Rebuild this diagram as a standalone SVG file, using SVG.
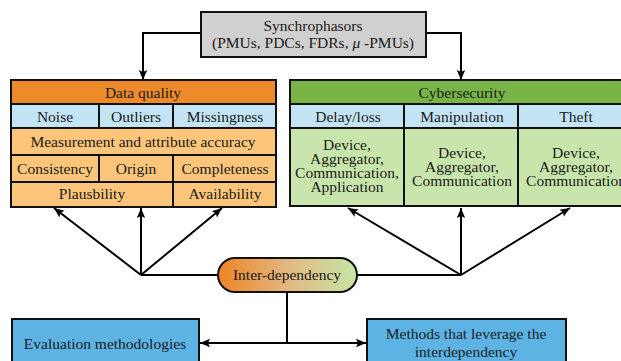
<svg xmlns="http://www.w3.org/2000/svg" width="621" height="361" viewBox="0 0 621 361">
<defs>
<marker id="arr" markerUnits="userSpaceOnUse" markerWidth="10" markerHeight="10" viewBox="0 0 10 10" refX="10" refY="5" orient="auto">
<path d="M0,0.8 L10,5 L0,9.2 L2,5 Z" fill="#000"/>
</marker>
<linearGradient id="pg" x1="0" y1="0" x2="1" y2="0">
<stop offset="0" stop-color="#EE8424"/>
<stop offset="0.5" stop-color="#E3B882"/>
<stop offset="1" stop-color="#C5E6A6"/>
</linearGradient>
<style>
text{font-family:"Liberation Serif","Times New Roman",serif;font-size:15.5px;fill:#1a1a1a;text-anchor:middle}
.b{stroke:#111;stroke-width:2}
.oh{fill:#ED8B2A}
.lo{fill:#FCC57A}
.lb{fill:#C3E4F5}
.gh{fill:#78B446}
.lg{fill:#C8E6AB}
.gr{fill:#D0D0D0}
.bb{fill:#5DB4E4}
.c{fill:none;stroke:#000;stroke-width:2}
.ca{fill:none;stroke:#000;stroke-width:2;marker-end:url(#arr)}
</style>
</defs>
<g id="connectors">
<path class="ca" d="M201,33 H143 V80"/>
<path class="ca" d="M426,33 H461 V80"/>
<path class="c" d="M141,275 H218"/>
<path class="c" d="M357,275 H461"/>
<path class="ca" d="M141,275 L54,208"/>
<path class="ca" d="M141,275 V208"/>
<path class="ca" d="M141,275 L222,208"/>
<path class="ca" d="M461,275 L348,208"/>
<path class="ca" d="M461,275 V208"/>
<path class="ca" d="M461,275 L570,208"/>
<path class="c" d="M287,292 V343"/>
<path class="ca" d="M287,343 H200"/>
<path class="ca" d="M287,343 H366"/>
</g>
<g id="synchrophasors">
<rect class="b gr" x="201" y="12" width="225" height="45"/>
<text x="313" y="31">Synchrophasors</text>
<text x="313" y="48">(PMUs, PDCs, FDRs, <tspan font-style="italic">μ</tspan> -PMUs)</text>
</g>
<g id="data-quality">
<rect class="b oh" x="11" y="80" width="265" height="24"/>
<text x="143" y="98">Data quality</text>
<rect class="b lb" x="11" y="104" width="88" height="24"/>
<rect class="b lb" x="99" y="104" width="74" height="24"/>
<rect class="b lb" x="173" y="104" width="103" height="24"/>
<text x="55" y="122">Noise</text>
<text x="136" y="122">Outliers</text>
<text x="225" y="122">Missingness</text>
<rect class="b lo" x="11" y="128" width="265" height="27"/>
<text x="143" y="147">Measurement and attribute accuracy</text>
<rect class="b lo" x="11" y="155" width="88" height="27"/>
<rect class="b lo" x="99" y="155" width="74" height="27"/>
<rect class="b lo" x="173" y="155" width="103" height="27"/>
<text x="55" y="174">Consistency</text>
<text x="136" y="174">Origin</text>
<text x="225" y="174">Completeness</text>
<rect class="b lo" x="11" y="182" width="162" height="25"/>
<rect class="b lo" x="173" y="182" width="103" height="25"/>
<text x="92" y="199">Plausbility</text>
<text x="225" y="199">Availability</text>
</g>
<g id="cybersecurity">
<rect class="b gh" x="290" y="80" width="344" height="24"/>
<text x="462" y="98">Cybersecurity</text>
<rect class="b lb" x="290" y="104" width="114" height="24"/>
<rect class="b lb" x="404" y="104" width="114" height="24"/>
<rect class="b lb" x="518" y="104" width="116" height="24"/>
<text x="348" y="122">Delay/loss</text>
<text x="462" y="122">Manipulation</text>
<text x="576" y="122">Theft</text>
<rect class="b lg" x="290" y="128" width="114" height="78"/>
<rect class="b lg" x="404" y="128" width="114" height="78"/>
<rect class="b lg" x="518" y="128" width="116" height="78"/>
<text x="347" y="150">Device,</text>
<text x="347" y="164">Aggregator,</text>
<text x="347" y="178">Communication,</text>
<text x="347" y="192">Application</text>
<text x="462" y="158">Device,</text>
<text x="462" y="172">Aggregator,</text>
<text x="462" y="186">Communication</text>
<text x="576" y="158">Device,</text>
<text x="576" y="172">Aggregator,</text>
<text x="576" y="186">Communication</text>
</g>
<g id="inter-dependency">
<rect x="218" y="258" width="139" height="34" rx="17" ry="17" fill="url(#pg)" stroke="#111" stroke-width="2"/>
<text x="287" y="280">Inter-dependency</text>
</g>
<g id="evaluation">
<rect class="b bb" x="12" y="319" width="187" height="50"/>
<text x="105" y="349">Evaluation methodologies</text>
</g>
<g id="methods">
<rect class="b bb" x="367" y="319" width="199" height="50"/>
<text x="466" y="339">Methods that leverage the</text>
<text x="466" y="357">interdependency</text>
</g>
</svg>
